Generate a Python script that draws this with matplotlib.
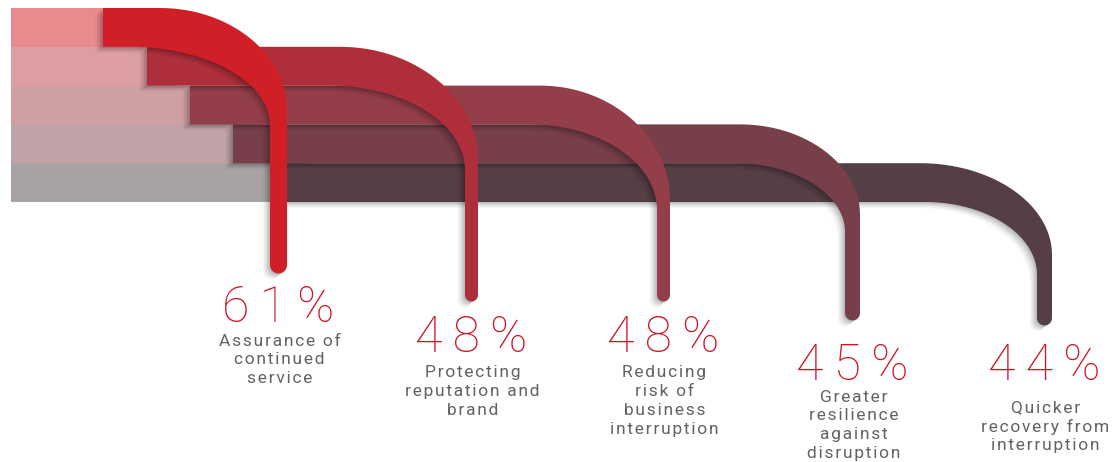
import numpy as np
import matplotlib
matplotlib.use('Agg')
from matplotlib import pyplot as plt
from matplotlib.path import Path
from matplotlib.patches import PathPatch, Rectangle


''' data '''
pcts = [61, 48, 48, 45, 44]
labels = [
  ['Assurance of', 'continued', 'service'],
  ['Protecting', 'reputation and', 'brand'],
  ['Reducing', 'risk of', 'business', 'interruption'],
  ['Greater', 'resilience', 'against', 'disruption'],
  ['Quicker', 'recovery from', 'interruption'],
]

''' layout, in pixels with y pointing down '''
band_top = 8
band_h = 38.8
fade_x0 = 11
band_x0 = [103, 147, 190, 233, 277]
stem_l = [270, 465, 657, 845, 1037]
stem_r = [287, 478, 670, 860, 1052]
stem_end = [265, 295, 295, 313, 318]
out_start = [160, 340, 540, 740, 920]
out_vert = [110, 160, 200, 215, 255]
in_start = [130, 330, 530, 735, 925]
in_vert = [125, 170, 210, 232, 275]
pct_base = [322, 352, 352, 380, 380]
lab_y0 = [341, 373, 373, 397, 408]
lab_gap = 18.8

band_col = ['#d01f27', '#ae2f3b', '#943e49', '#763f4a', '#563e45']
fade_col = ['#e88a8e', '#dc9ea2', '#cf9fa4', '#c0a2a7', '#a9a2a5']
pct_col = '#cc1424'
lab_col = '#626262'


def bez(p0, p3, k=0.55, n=40):
  # horizontal tangent at p0, vertical tangent at p3
  p1 = (p0[0] + k*(p3[0]-p0[0]), p0[1])
  p2 = (p3[0], p3[1] - k*(p3[1]-p0[1]))
  t = np.linspace(0, 1, n)[:, None]
  pts = ((1-t)**3)*np.array(p0) + 3*((1-t)**2)*t*np.array(p1) \
    + 3*(1-t)*(t**2)*np.array(p2) + (t**3)*np.array(p3)
  return [tuple(p) for p in pts]

def band_poly(i):
  yt = band_top + i*band_h
  yb = yt + band_h
  xl, xr = stem_l[i], stem_r[i]
  r = (xr - xl)/2
  xm = (xl + xr)/2
  pts = [(band_x0[i], yt)]
  pts += bez((out_start[i], yt), (xr, out_vert[i]))
  pts.append((xr, stem_end[i]))
  th = np.linspace(0, np.pi, 20)
  pts += list(zip(xm + r*np.cos(th), stem_end[i] + r*np.sin(th)))
  pts.append((xl, in_vert[i]))
  pts += bez((in_start[i], yb), (xl, in_vert[i]))[::-1]
  pts.append((band_x0[i], yb))
  pts.append((band_x0[i], yt))  # closing vertex (ignored by Path)
  return np.array(pts)


fig = plt.figure(figsize=(11.13, 4.62), dpi=100)
ax = fig.add_axes([0, 0, 1, 1])
ax.set_xlim(0, 1113)
ax.set_ylim(462, 0)
ax.axis('off')

# faded left parts
for i in range(5):
  yt = band_top + i*band_h
  ax.add_patch(Rectangle((fade_x0, yt), band_x0[i] + 30 - fade_x0, band_h,
                         facecolor=fade_col[i], edgecolor='none', zorder=1))

# bands, back to front, each with a soft shadow
for i in range(4, -1, -1):
  poly = band_poly(i)
  z = 10 + (4 - i)*2
  for d, a in [(1.5, 0.08), (3, 0.07), (4.5, 0.06), (6, 0.04), (7.5, 0.03)]:
    sh = poly + np.array([-d, d*0.8])
    ax.add_patch(PathPatch(Path(sh, closed=True), facecolor='black',
                           edgecolor='none', alpha=a, zorder=z))
  ax.add_patch(PathPatch(Path(poly, closed=True), facecolor=band_col[i],
                         edgecolor='none', zorder=z + 1))

# texts
for i in range(5):
  xm = (stem_l[i] + stem_r[i])/2
  s = '\u2009'.join(list(f'{pcts[i]}%'))
  ax.text(xm, pct_base[i], s, color=pct_col, fontsize=36, ha='center',
          va='baseline', family=['Roboto', 'DejaVu Sans'], fontweight='light', zorder=30)
  for j, line in enumerate(labels[i]):
    ax.text(xm + 1, lab_y0[i] + j*lab_gap, '\u200a'.join(list(line)), color=lab_col,
            fontsize=12.5, ha='center', va='center', family=['Roboto', 'DejaVu Sans'],
            zorder=30)

fig.savefig('out.png', dpi=100)
